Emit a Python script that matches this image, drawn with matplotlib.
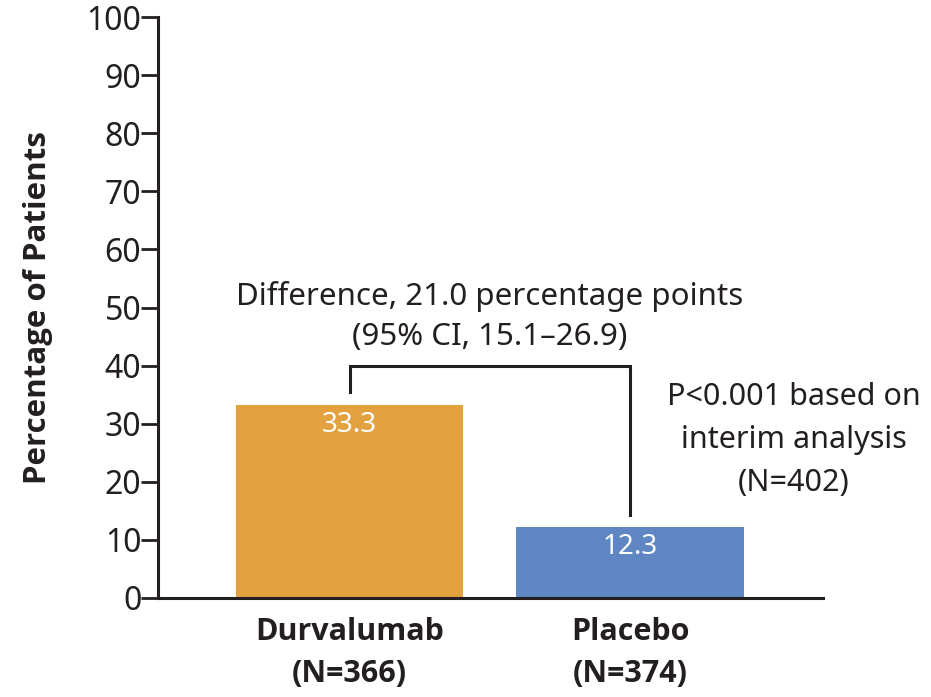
import matplotlib
matplotlib.use("Agg")
import matplotlib.pyplot as plt

categories = ["Durvalumab\n(N=366)", "Placebo\n(N=374)"]
values = [33.3, 12.3]
value_labels = ["33.3", "12.3"]
colors = ["#E3A13F", "#5D86C3"]
yticks = [0, 10, 20, 30, 40, 50, 60, 70, 80, 90, 100]
bracket_top = 40.0
bracket_left_end = 35.5
bracket_right_end = 14.3
diff_text = "Difference, 21.0 percentage points\n(95% CI, 15.1\u201326.9)"
p_text = "P<0.001 based on\ninterim analysis\n(N=402)"
ylabel = "Percentage of Patients"

plt.rcParams['font.family'] = ['Noto Sans', 'DejaVu Sans']
bold_family = ['Open Sans', 'DejaVu Sans']
dark = "#231F20"

fig = plt.figure(figsize=(9.31, 6.97), dpi=100)
ax = fig.add_axes([158/931, 99/697, 665/931, 581/697])

x = [0, 1]
ax.bar(x, values, width=0.81, color=colors, zorder=2)
ax.set_xlim(-0.683, 1.688)
ax.set_ylim(0, 100)
ax.set_yticks(yticks)
ax.set_xticks(x)
ax.set_xticklabels(categories, fontsize=22, fontweight='bold', family=bold_family,
                   color=dark, linespacing=1.5)
ax.tick_params(axis='y', length=12, width=2, color=dark, labelsize=23, labelcolor=dark, pad=0)
ax.tick_params(axis='x', length=0, pad=14)
for s in ['top', 'right']:
    ax.spines[s].set_visible(False)
for s in ['left', 'bottom']:
    ax.spines[s].set_linewidth(2.2)
    ax.spines[s].set_color(dark)
ax.set_ylabel(ylabel, fontsize=22.5, fontweight='bold', family=bold_family, color=dark, labelpad=24)

for xi, v, lab in zip(x, values, value_labels):
    ax.text(xi, v - 3.5, lab, ha='center', va='center', color='white', fontsize=20)

ax.plot([x[0], x[0], x[1], x[1]], [bracket_left_end, bracket_top, bracket_top, bracket_right_end],
        color=dark, lw=2.2, solid_joinstyle='miter', zorder=3)

ax.text(0.5, 48.5, diff_text, ha='center', va='center', fontsize=22.5, color=dark, linespacing=1.42)
ax.text(1.585, 27.2, p_text, ha='center', va='center', fontsize=22, color=dark, linespacing=1.55)

fig.savefig("out.png", dpi=100)
